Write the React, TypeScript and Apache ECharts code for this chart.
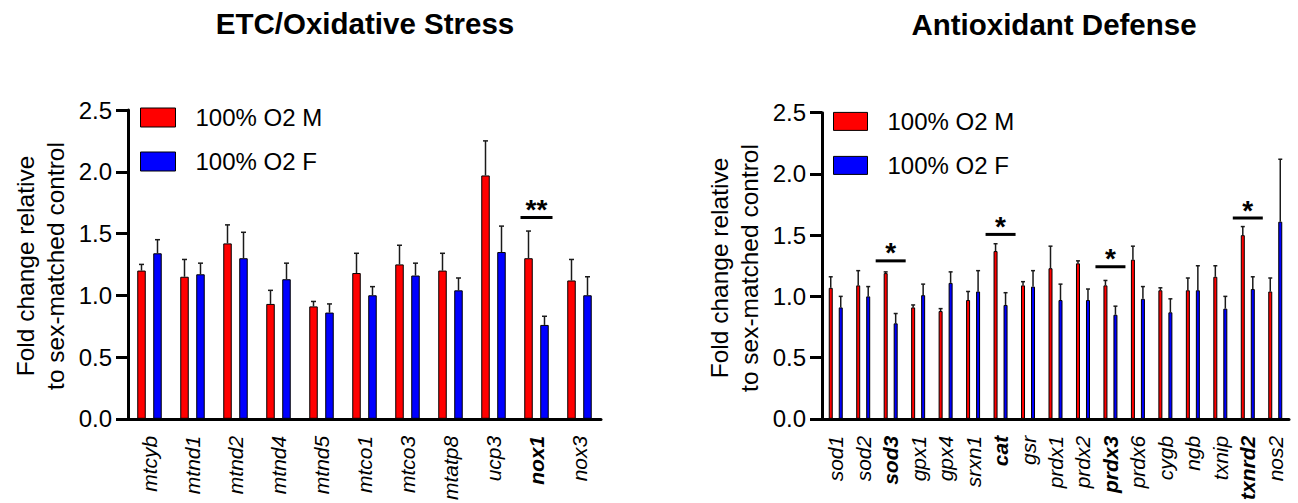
import React, { useEffect, useRef } from "react";
import * as echarts from "echarts";

const FONT = "'Liberation Sans', Arial, Helvetica, sans-serif";

// Left panel: ETC / Oxidative Stress
const leftCats = ["mtcyb", "mtnd1", "mtnd2", "mtnd4", "mtnd5", "mtco1", "mtco3", "mtatp8", "ucp3", "nox1", "nox3"];
const leftM = [1.2, 1.15, 1.42, 0.93, 0.91, 1.18, 1.25, 1.2, 1.97, 1.3, 1.12];
const leftMSem = [0.05, 0.14, 0.15, 0.11, 0.04, 0.16, 0.155, 0.14, 0.28, 0.22, 0.17];
const leftF = [1.34, 1.17, 1.3, 1.13, 0.86, 1.0, 1.16, 1.04, 1.35, 0.76, 1.0];
const leftFSem = [0.11, 0.09, 0.21, 0.13, 0.07, 0.07, 0.1, 0.1, 0.21, 0.07, 0.15];
const leftBold = ["nox1"];
const leftSigIdx = [9];
const leftSigY = [1.63];
const leftSigLabel = ["**"];

// Right panel: Antioxidant Defense
const rightCats = ["sod1", "sod2", "sod3", "gpx1", "gpx4", "srxn1", "cat", "gsr", "prdx1", "prdx2", "prdx3", "prdx6", "cygb", "ngb", "txnip", "txnrd2", "nos2"];
const rightM = [1.07, 1.09, 1.19, 0.91, 0.88, 0.97, 1.37, 1.09, 1.23, 1.27, 1.09, 1.3, 1.05, 1.05, 1.16, 1.5, 1.04];
const rightMSem = [0.09, 0.12, 0.01, 0.02, 0.02, 0.07, 0.06, 0.03, 0.18, 0.02, 0.04, 0.11, 0.02, 0.1, 0.09, 0.07, 0.11];
const rightF = [0.91, 1.0, 0.78, 1.01, 1.11, 1.04, 0.93, 1.08, 0.97, 0.97, 0.85, 0.98, 0.87, 1.05, 0.9, 1.06, 1.61];
const rightFSem = [0.09, 0.08, 0.08, 0.09, 0.09, 0.17, 0.1, 0.13, 0.13, 0.09, 0.07, 0.1, 0.11, 0.2, 0.1, 0.1, 0.51];
const rightBold = ["sod3", "cat", "prdx3", "txnrd2"];
const rightSigIdx = [2, 6, 10, 15];
const rightSigY = [1.29, 1.506, 1.242, 1.64];
const rightSigLabel = ["*", "*", "*", "*"];

const yTicks = { min: 0, max: 2.5, interval: 0.5 };
const nameM = "100% O2 M";
const nameF = "100% O2 F";
const titles = ["ETC/Oxidative Stress", "Antioxidant Defense"];
const yTitle = "Fold change relative\nto sex-matched control";

function errRender(offset: number, cap: number) {
  return (params: any, api: any) => {
    const idx = api.value(0);
    const p0 = api.coord([idx, api.value(1)]);
    const p1 = api.coord([idx, api.value(2)]);
    const x = p0[0] + offset;
    const st = { stroke: "#1a1a1a", lineWidth: 1.5 };
    return {
      type: "group",
      children: [
        { type: "line", shape: { x1: x, y1: p0[1], x2: x, y2: p1[1] }, style: st },
        { type: "line", shape: { x1: x - cap, y1: p1[1], x2: x + cap, y2: p1[1] }, style: st },
      ],
    };
  };
}

function sigRender(halfW: number, labels: string[]) {
  return (params: any, api: any) => {
    const p = api.coord([api.value(0), api.value(1)]);
    return {
      type: "group",
      children: [
        { type: "line", shape: { x1: p[0] - halfW, y1: p[1], x2: p[0] + halfW, y2: p[1] }, style: { stroke: "#000", lineWidth: 3 } },
        {
          type: "text",
          x: p[0],
          y: p[1] - 8,
          style: { text: labels[params.dataIndex], fill: "#000", font: `bold 28px ${FONT}`, textAlign: "center", textVerticalAlign: "middle" },
        },
      ],
    };
  };
}

function xAxisCfg(cats: string[], bold: string[], gridIndex: number) {
  return {
    type: "category",
    gridIndex,
    data: cats,
    axisLine: { lineStyle: { color: "#000", width: 3 } },
    axisTick: { alignWithLabel: true, length: 12, lineStyle: { color: "#000", width: 3 } },
    axisLabel: {
      interval: 0,
      rotate: 90,
      margin: 17,
      color: "#000",
      fontFamily: FONT,
      fontSize: 21,
      fontStyle: "italic",
      formatter: (v: string) => (bold.includes(v) ? `{b|${v}}` : v),
      rich: { b: { fontFamily: FONT, fontSize: 21, fontStyle: "italic", fontWeight: "bold", color: "#000" } },
    },
  };
}

function yAxisCfg(gridIndex: number) {
  return {
    type: "value",
    gridIndex,
    ...yTicks,
    splitLine: { show: false },
    axisLine: { show: true, lineStyle: { color: "#000", width: 3 } },
    axisTick: { show: true, length: 12, lineStyle: { color: "#000", width: 3 } },
    axisLabel: { color: "#000", fontFamily: FONT, fontSize: 24, margin: 16, formatter: (v: number) => v.toFixed(1) },
  };
}

export default function App() {
  const ref = useRef<HTMLDivElement>(null);
  useEffect(() => {
    document.body.style.margin = "0";
    document.body.style.overflow = "hidden";
    const chart = echarts.init(ref.current!, null, { renderer: "svg" });
    const barStyle = (c: string) => ({ color: c, borderColor: "#000", borderWidth: 1 });
    const legendCommon = {
      orient: "vertical",
      selectedMode: false,
      padding: 0,
      itemGap: 16,
      icon: "rect",
      itemStyle: { borderColor: "#000", borderWidth: 1 },
      data: [nameM, nameF],
      textStyle: { fontFamily: FONT, fontSize: 24, color: "#000", lineHeight: 28, padding: [0, 0, 0, 15] },
    };
    chart.setOption({
      animation: false,
      backgroundColor: "#fff",
      grid: [
        { left: 128, top: 110, width: 473, height: 312, containLabel: false },
        { left: 822, top: 112.7, width: 467, height: 310, containLabel: false },
      ],
      legend: [
        { ...legendCommon, left: 140, top: 103.5, itemWidth: 35, itemHeight: 19 },
        { ...legendCommon, left: 833, top: 107.4, itemWidth: 34, itemHeight: 18 },
      ],
      xAxis: [xAxisCfg(leftCats, leftBold, 0), xAxisCfg(rightCats, rightBold, 1)],
      yAxis: [yAxisCfg(0), yAxisCfg(1)],
      graphic: [
        { type: "text", x: 365, y: 23, style: { text: titles[0], font: `bold 29.5px ${FONT}`, fill: "#000", textAlign: "center", textVerticalAlign: "middle" } },
        { type: "text", x: 1054, y: 24, style: { text: titles[1], font: `bold 29.5px ${FONT}`, fill: "#000", textAlign: "center", textVerticalAlign: "middle" } },
        { type: "text", x: 40, y: 266, rotation: Math.PI / 2, style: { text: yTitle, font: `24.5px ${FONT}`, fill: "#000", textAlign: "center", textVerticalAlign: "middle", lineHeight: 30 } },
        { type: "text", x: 734, y: 268, rotation: Math.PI / 2, style: { text: yTitle, font: `24.5px ${FONT}`, fill: "#000", textAlign: "center", textVerticalAlign: "middle", lineHeight: 30 } },
      ],
      series: [
        { type: "bar", name: nameM, xAxisIndex: 0, yAxisIndex: 0, data: leftM, barWidth: 8.5, barGap: "88%", itemStyle: barStyle("#ff0000") },
        { type: "bar", name: nameF, xAxisIndex: 0, yAxisIndex: 0, data: leftF, barWidth: 8.5, barGap: "88%", itemStyle: barStyle("#0000ff") },
        { type: "bar", name: nameM, xAxisIndex: 1, yAxisIndex: 1, data: rightM, barWidth: 4, barGap: "150%", itemStyle: barStyle("#ff0000") },
        { type: "bar", name: nameF, xAxisIndex: 1, yAxisIndex: 1, data: rightF, barWidth: 4, barGap: "150%", itemStyle: barStyle("#0000ff") },
        { type: "custom", name: "errLM", xAxisIndex: 0, yAxisIndex: 0, z: 5, renderItem: errRender(-8, 2.5), data: leftM.map((v, i) => [i, v, v + leftMSem[i]]) },
        { type: "custom", name: "errLF", xAxisIndex: 0, yAxisIndex: 0, z: 5, renderItem: errRender(8, 2.5), data: leftF.map((v, i) => [i, v, v + leftFSem[i]]) },
        { type: "custom", name: "errRM", xAxisIndex: 1, yAxisIndex: 1, z: 5, renderItem: errRender(-5, 2), data: rightM.map((v, i) => [i, v, v + rightMSem[i]]) },
        { type: "custom", name: "errRF", xAxisIndex: 1, yAxisIndex: 1, z: 5, renderItem: errRender(5, 2), data: rightF.map((v, i) => [i, v, v + rightFSem[i]]) },
        { type: "custom", name: "sigL", xAxisIndex: 0, yAxisIndex: 0, z: 6, renderItem: sigRender(16, leftSigLabel), data: leftSigIdx.map((c, i) => [c, leftSigY[i]]) },
        { type: "custom", name: "sigR", xAxisIndex: 1, yAxisIndex: 1, z: 6, renderItem: sigRender(15, rightSigLabel), data: rightSigIdx.map((c, i) => [c, rightSigY[i]]) },
      ],
    });
    return () => chart.dispose();
  }, []);
  return <div ref={ref} style={{ width: 1298, height: 503 }} />;
}
